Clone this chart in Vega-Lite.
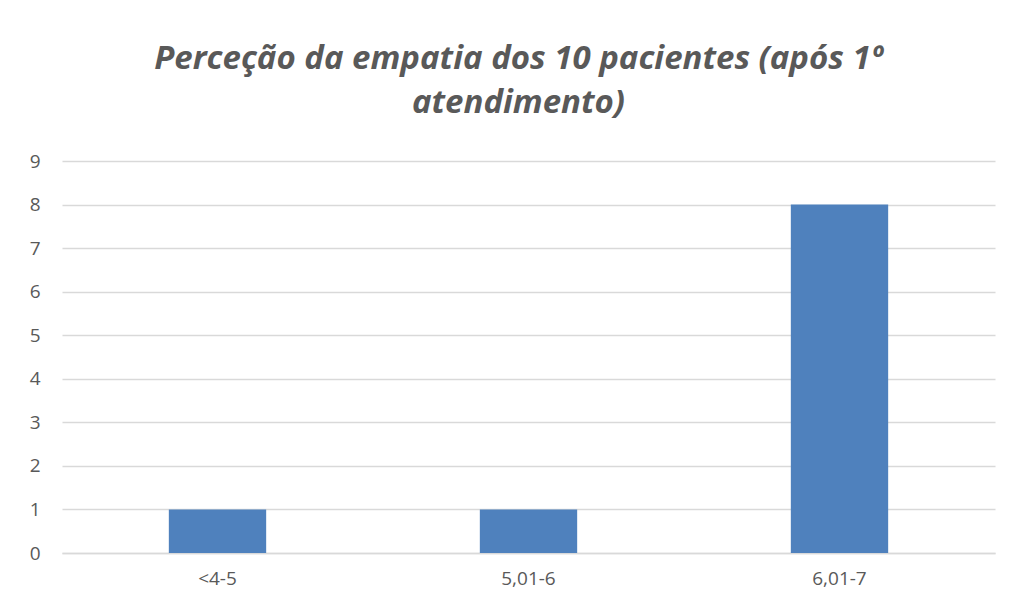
{
  "$schema": "https://vega.github.io/schema/vega-lite/v6.json",
  "autosize": {"type": "none"},
  "width": 933,
  "height": 392,
  "padding": {"left": 62, "top": 161, "right": 17, "bottom": 62},
  "background": "white",
  "title": {
    "text": ["Perceção da empatia dos 10 pacientes (após 1º", "atendimento)"],
    "font": "Open Sans",
    "fontSize": 33,
    "fontWeight": "bold",
    "fontStyle": "italic",
    "color": "#595959",
    "lineHeight": 44,
    "anchor": "middle",
    "dx": -10,
    "offset": 32
  },
  "data": {
    "values": [
      {"faixa": "<4-5", "pacientes": 1},
      {"faixa": "5,01-6", "pacientes": 1},
      {"faixa": "6,01-7", "pacientes": 8}
    ]
  },
  "mark": {"type": "bar", "color": "#4F81BD"},
  "encoding": {
    "x": {
      "field": "faixa",
      "type": "nominal",
      "sort": null,
      "title": null,
      "scale": {"paddingInner": 0.687, "paddingOuter": 0.3435},
      "axis": {
        "labelAngle": 0,
        "labelFont": "Open Sans",
        "labelFontSize": 19,
        "labelColor": "#595959",
        "labelPadding": 16,
        "ticks": false,
        "domainColor": "#d9d9d9",
        "domainWidth": 1.5
      }
    },
    "y": {
      "field": "pacientes",
      "type": "quantitative",
      "title": null,
      "scale": {"domain": [0, 9], "nice": false},
      "axis": {
        "values": [0, 1, 2, 3, 4, 5, 6, 7, 8, 9],
        "labelFont": "Open Sans",
        "labelFontSize": 19,
        "labelColor": "#595959",
        "labelPadding": 22,
        "ticks": false,
        "domain": false,
        "gridColor": "#d9d9d9",
        "gridWidth": 1.5
      }
    }
  },
  "config": {"view": {"stroke": null}}
}
